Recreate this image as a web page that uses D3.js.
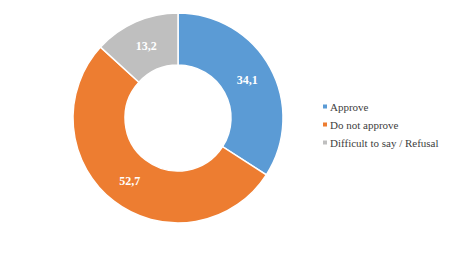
<!DOCTYPE html>
<html>
<head>
<meta charset="utf-8">
<script src="https://cdn.jsdelivr.net/npm/d3@7"></script>
<style>
  body { margin: 0; background: #fff; }
  svg { display: block; }
  text { font-family: 'Liberation Serif', serif; }
</style>
</head>
<body>
<div id="chart"></div>
<script>
const categories = ['Approve', 'Do not approve', 'Difficult to say / Refusal'];
const values = [34.1, 52.7, 13.2];
const labels = ['34,1', '52,7', '13,2'];
const colors = ['#5B9BD5', '#ED7D31', '#BFBFBF'];

const width = 474, height = 262;
const cx = 178, cy = 118, outerR = 105, innerR = 53;

const svg = d3.select('#chart').append('svg')
    .attr('width', width)
    .attr('height', height);

const pie = d3.pie().sort(null).value(d => d);
const arc = d3.arc().innerRadius(innerR).outerRadius(outerR);

const g = svg.append('g').attr('transform', `translate(${cx},${cy})`);
const arcs = pie(values);

g.selectAll('path')
    .data(arcs)
    .join('path')
    .attr('d', arc)
    .attr('fill', (d, i) => colors[i])
    .attr('stroke', '#fff')
    .attr('stroke-width', 1.5);

g.selectAll('text')
    .data(arcs)
    .join('text')
    .attr('transform', d => `translate(${arc.centroid(d)})`)
    .attr('text-anchor', 'middle')
    .attr('dy', '0.35em')
    .attr('font-size', 12)
    .attr('font-weight', 'bold')
    .attr('fill', '#fff')
    .text((d, i) => labels[i]);

// legend
const legend = svg.append('g').attr('transform', 'translate(323,107)');
const item = legend.selectAll('g')
    .data(categories)
    .join('g')
    .attr('transform', (d, i) => `translate(0,${i * 18})`);

item.append('rect')
    .attr('x', 0).attr('y', -2.5)
    .attr('width', 4).attr('height', 4)
    .attr('fill', (d, i) => colors[i]);

item.append('text')
    .attr('x', 7)
    .attr('dy', '0.35em')
    .attr('font-size', 11)
    .attr('fill', '#404040')
    .text(d => d);
</script>
</body>
</html>
